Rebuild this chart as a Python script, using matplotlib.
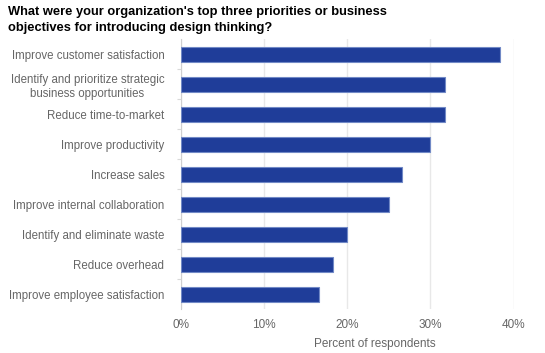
#!/usr/bin/env python3
"""Top priorities for introducing design thinking - horizontal bar chart."""
import matplotlib
matplotlib.use("Agg")
import matplotlib.pyplot as plt
from matplotlib.ticker import FuncFormatter

plt.rcParams["font.family"] = ["Liberation Sans", "DejaVu Sans"]

categories = [
    "Improve customer satisfaction",
    "Identify and prioritize strategic\nbusiness opportunities",
    "Reduce time-to-market",
    "Improve productivity",
    "Increase sales",
    "Improve internal collaboration",
    "Identify and eliminate waste",
    "Reduce overhead",
    "Improve employee satisfaction",
]
percent = [38.4, 31.7, 31.7, 30.0, 26.6, 25.0, 20.0, 18.3, 16.6]
x_ticks = [0, 10, 20, 30, 40]

TITLE = ("What were your organization's top three priorities or business\n"
         "objectives for introducing design thinking?")
BAR = "#1f3d99"
EDGE = "#7189c6"
GRID = "#e8e8e8"
TEXT = "#666666"


def main():
    fig = plt.figure(figsize=(5.45, 3.53), dpi=100)
    ax = fig.add_axes([181 / 545, 1 - 309.3 / 353, 332.5 / 545, 270 / 353])

    ypos = list(range(len(categories)))
    ax.barh(ypos, percent, height=0.5, color=BAR, edgecolor=EDGE, linewidth=0.8, zorder=3)
    ax.set_ylim(len(categories) - 0.5, -0.5)
    ax.set_xlim(0, 40)

    # labels on the category centres, small ticks on the band edges
    ax.set_yticks(ypos)
    ax.set_yticklabels(categories, fontsize=8.3, color=TEXT, multialignment="center")
    ax.tick_params(axis="y", length=0, pad=12)
    ax.set_yticks([i + 0.5 for i in ypos[:-1]], minor=True)
    ax.tick_params(axis="y", which="minor", length=3, color="#d9d9d9", width=0.8)

    ax.set_xticks(x_ticks)
    ax.xaxis.set_major_formatter(FuncFormatter(lambda v, _: f"{v:.0f}%"))
    ax.tick_params(axis="x", length=0, pad=7, labelsize=8.5, labelcolor=TEXT)
    ax.grid(axis="x", color=GRID, linewidth=1, zorder=0)

    for side in ("top", "right", "bottom"):
        ax.spines[side].set_visible(False)
    ax.spines["left"].set_color("#d0d0d0")
    ax.spines["left"].set_linewidth(0.8)

    ax.set_xlabel("Percent of respondents", fontsize=8.5, color=TEXT)
    ax.xaxis.set_label_coords(194 / 332.5, -(337.5 - 309.3) / 270)

    fig.text(8 / 545, 1 - 6 / 353, TITLE, fontsize=9.3, fontweight="bold",
             color="black", ha="left", va="top", linespacing=1.4)

    fig.savefig("out.png", dpi=100)
    plt.close(fig)


if __name__ == "__main__":
    main()
